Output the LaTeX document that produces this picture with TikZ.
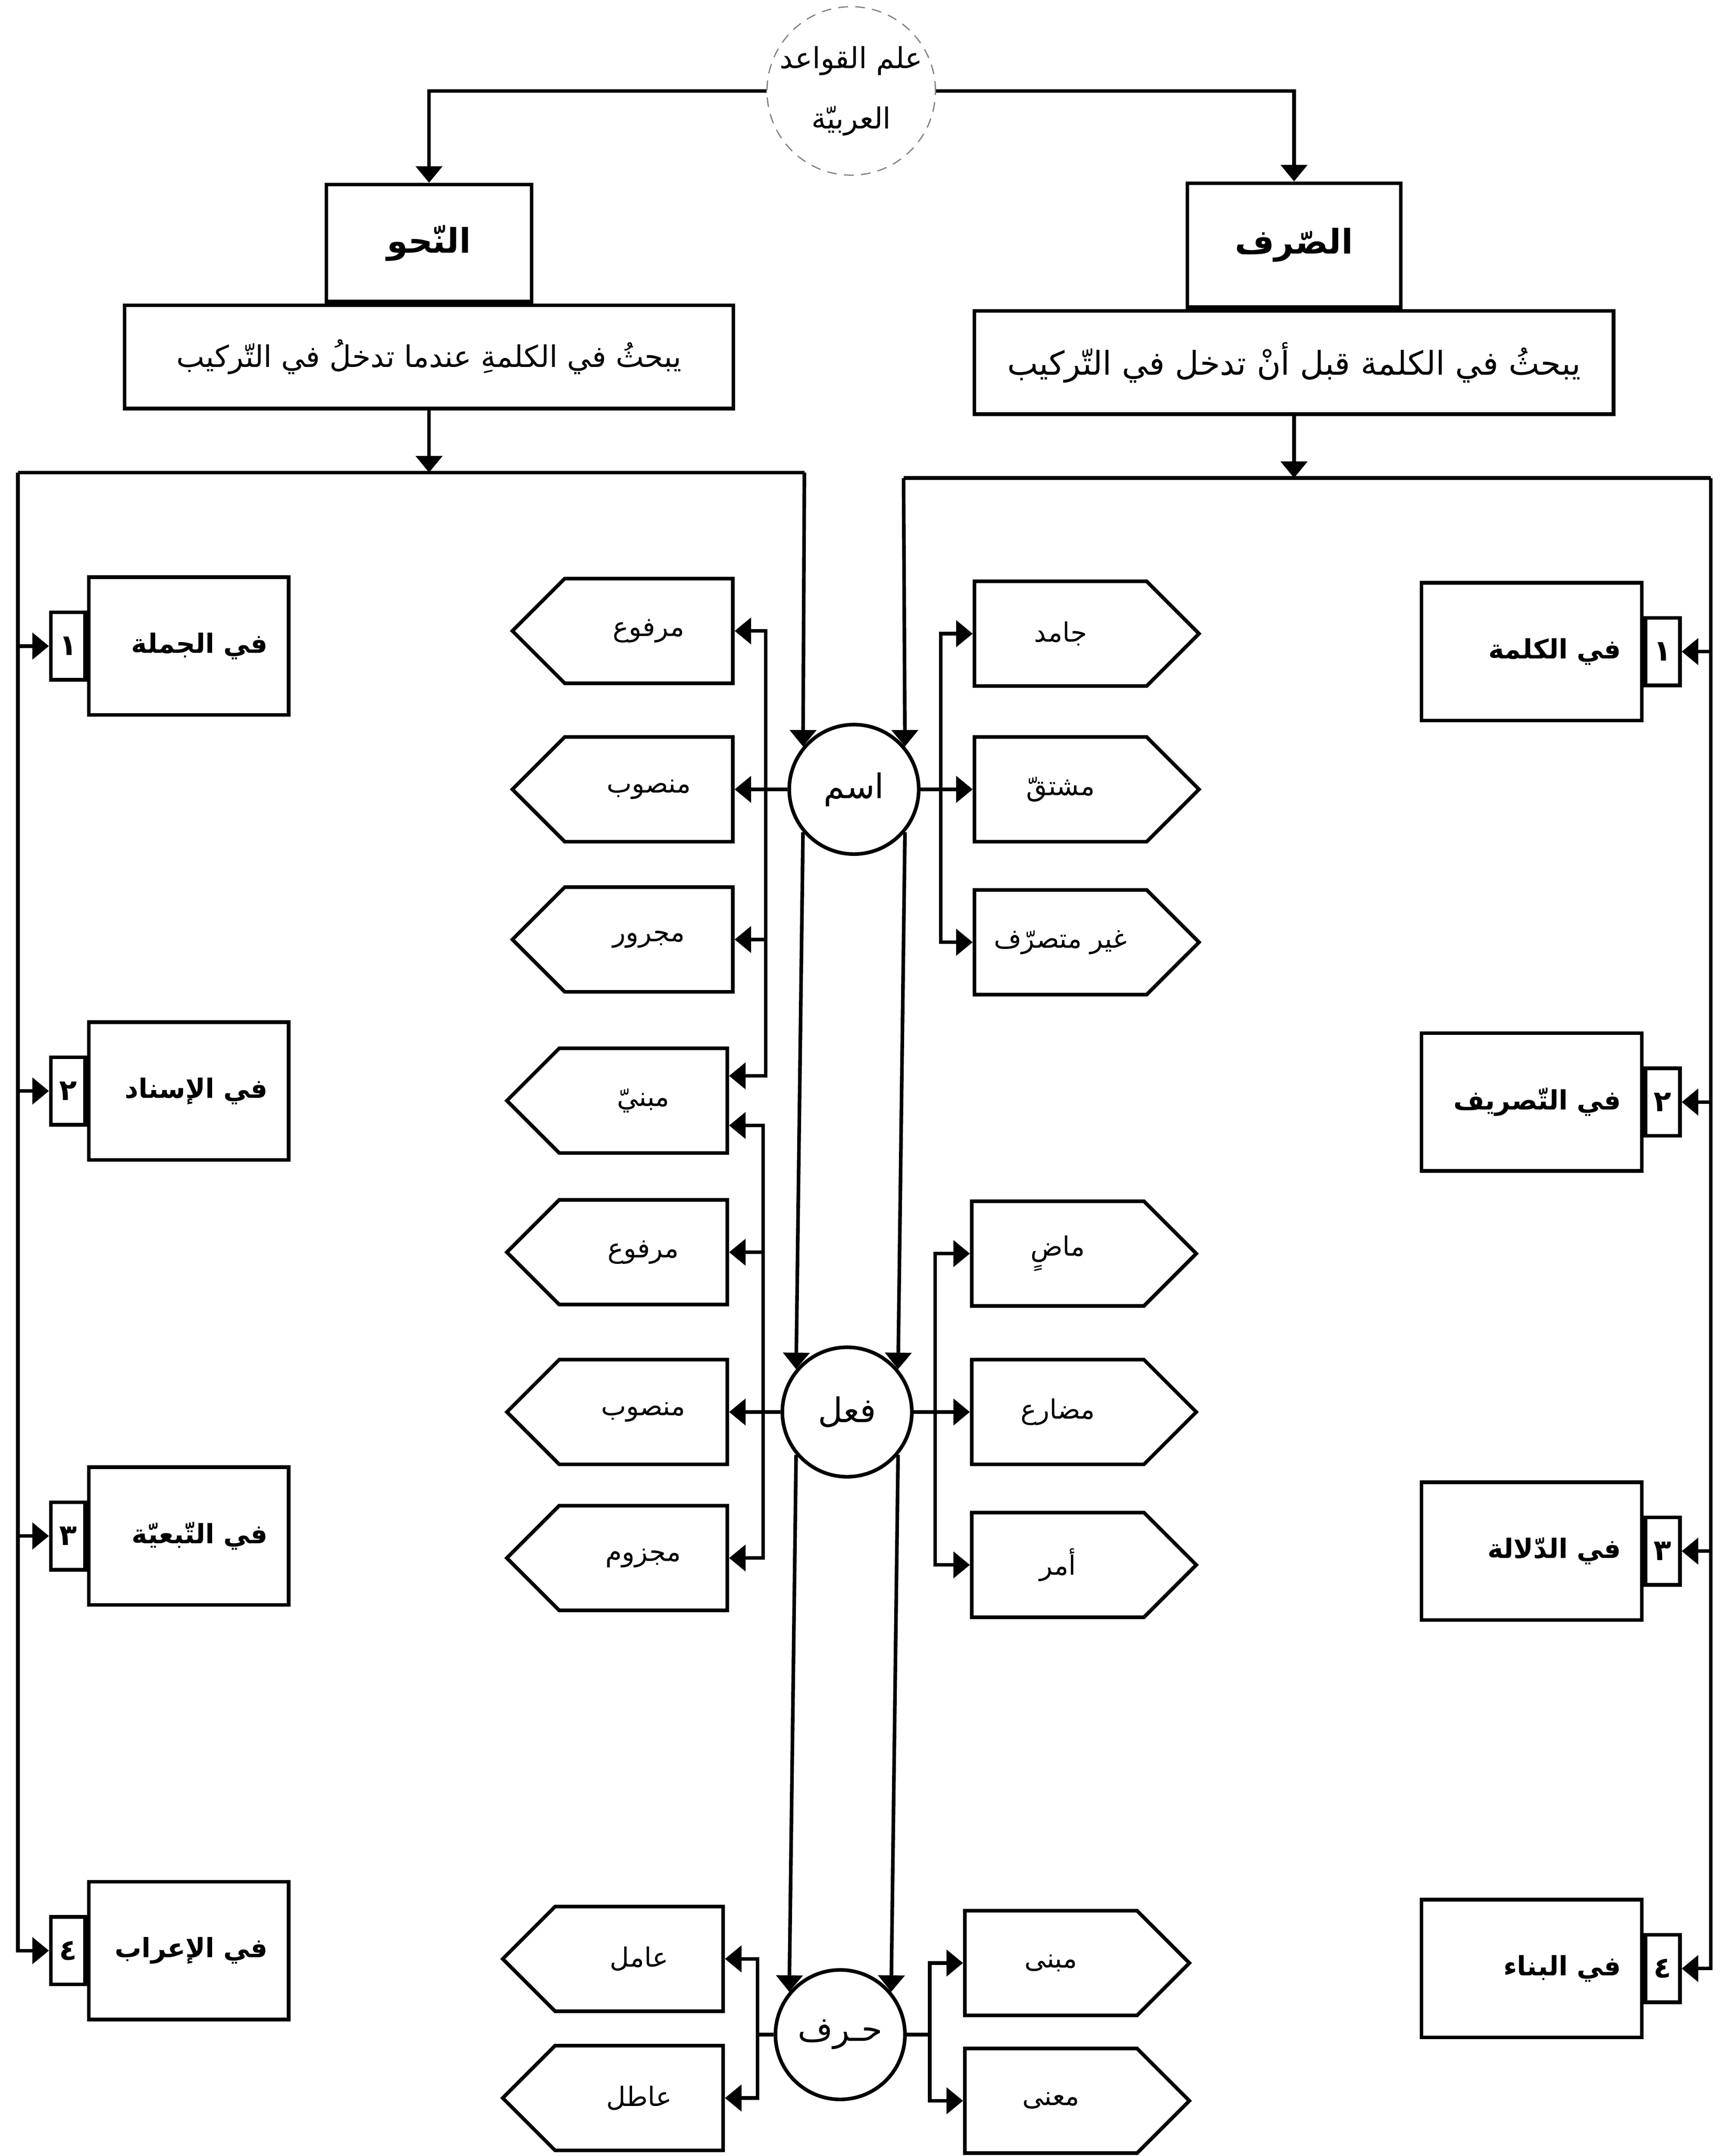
\documentclass[tikz,border=0pt]{standalone}
\usepackage{fontspec}
\newfontfamily\arabicfont[Script=Arabic]{DejaVu Sans}
\TeXXeTstate=1
\usetikzlibrary{positioning,shapes.symbols,arrows.meta}
\newcommand{\artext}[1]{\beginR #1\endR}

\begin{document}
\begin{tikzpicture}[x=0.2mm,y=-0.2mm,line width=1.5pt,
        arr/.style={-{Triangle[length=2.4mm,width=3.8mm]}},
        arrs/.style={{Triangle[length=2.4mm,width=3.8mm]}-{Triangle[length=2.4mm,width=3.8mm]}},
        rootnode/.style={circle,draw=gray,line width=0.5pt,dash pattern=on 4pt off 3pt,minimum size=24mm,inner sep=0pt,align=center,font=\arabicfont\fontsize{12}{25}\selectfont},
        titlebox/.style={draw,minimum height=17mm,font=\arabicfont\bfseries\fontsize{14}{17}\selectfont},
        descbox/.style={draw,minimum height=15mm,font=\arabicfont\fontsize{12.3}{15}\selectfont},
        secbox/.style={draw,minimum height=20mm,inner xsep=3mm,align=right,font=\arabicfont\bfseries\fontsize{11}{14}\selectfont},
        numbox/.style={draw,minimum width=5mm,minimum height=9.8mm,inner sep=0pt,font=\arabicfont\bfseries\fontsize{12}{14}\selectfont},
        wordcircle/.style={circle,draw,minimum size=18.8mm,inner sep=0pt,font=\arabicfont\fontsize{14}{17}\selectfont},
        leftsig/.style={signal,signal to=west,draw,minimum width=32mm,minimum height=15.2mm,font=\arabicfont\fontsize{11}{14}\selectfont},
        rightsig/.style={signal,signal to=east,draw,minimum width=32.6mm,minimum height=15.2mm,font=\arabicfont\fontsize{11}{14}\selectfont}]
    \useasboundingbox (0,0) rectangle (1250,1565.1);

    \node[rootnode] (root) at (618,66) {\artext{علم القواعد}\\\artext{العربيّة}};

    \node[titlebox,minimum width=29.8mm] (nahw) at (311.5,176.5) {\artext{النّحو}};
    \node[descbox,minimum width=88.4mm,below=0pt of nahw] (nahwd) {\artext{يبحثُ في الكلمةِ عندما تدخلُ في التّركيب}};
    \node[titlebox,minimum width=31mm,minimum height=18mm] (sarf) at (939.5,178) {\artext{الصّرف}};
    \node[descbox,minimum width=92.8mm,below=0pt of sarf,font=\arabicfont\fontsize{13.5}{16}\selectfont] (sarfd) {\artext{يبحثُ في الكلمة قبل أنْ تدخل في التّركيب}};

    \node[secbox,text width=23mm] (s1) at (137,469) {\artext{في الجملة}};
    \node[numbox,left=0pt of s1] (n1) {١};
    \node[secbox,text width=23mm] (s2) at (137,792) {\artext{في الإسناد}};
    \node[numbox,left=0pt of s2] (n2) {٢};
    \node[secbox,text width=23mm] (s3) at (137,1115) {\artext{في التّبعيّة}};
    \node[numbox,left=0pt of s3] (n3) {٣};
    \node[secbox,text width=23mm] (s4) at (137,1416) {\artext{في الإعراب}};
    \node[numbox,left=0pt of s4] (n4) {٤};

    \node[secbox,text width=26mm] (k1) at (1112,473) {\artext{في الكلمة}};
    \node[numbox,right=0pt of k1] (m1) {١};
    \node[secbox,text width=26mm] (k2) at (1112,800) {\artext{في التّصريف}};
    \node[numbox,right=0pt of k2] (m2) {٢};
    \node[secbox,text width=26mm] (k3) at (1112,1126) {\artext{في الدّلالة}};
    \node[numbox,right=0pt of k3] (m3) {٣};
    \node[secbox,text width=26mm] (k4) at (1112,1429) {\artext{في البناء}};
    \node[numbox,right=0pt of k4] (m4) {٤};

    \node[wordcircle] (ism) at (620,573) {\artext{اسم}};
    \node[wordcircle] (fil) at (615,1025) {\artext{فعل}};
    \node[wordcircle] (harf) at (610,1477) {\artext{حـرف}};

    \node[leftsig] (l1) at (471,458) {\artext{مرفوع}};
    \node[leftsig] (l2) at (471,573) {\artext{منصوب}};
    \node[leftsig] (l3) at (471,682) {\artext{مجرور}};
    \node[leftsig] (l4) at (467,799) {\artext{مبنيّ}};
    \node[leftsig] (l5) at (467,909) {\artext{مرفوع}};
    \node[leftsig] (l6) at (467,1025) {\artext{منصوب}};
    \node[leftsig] (l7) at (467,1131) {\artext{مجزوم}};
    \node[leftsig] (l8) at (464,1422) {\artext{عامل}};
    \node[leftsig] (l9) at (464,1523) {\artext{عاطل}};

    \node[rightsig] (r1) at (770,460) {\artext{جامد}};
    \node[rightsig] (r2) at (770,573) {\artext{مشتقّ}};
    \node[rightsig] (r3) at (770,684) {\artext{غير متصرّف}};
    \node[rightsig] (r4) at (768,910) {\artext{ماضٍ}};
    \node[rightsig] (r5) at (768,1025) {\artext{مضارع}};
    \node[rightsig] (r6) at (768,1136) {\artext{أمر}};
    \node[rightsig] (r7) at (763,1425) {\artext{مبنى}};
    \node[rightsig] (r8) at (763,1525) {\artext{معنى}};

    \coordinate (nW) at (13,343);
    \coordinate (nE) at (584,343);
    \coordinate (sW) at (656,347);
    \coordinate (sE) at (1242,347);
    \coordinate (iL) at (556,573);
    \coordinate (iR) at (683,573);
    \coordinate (fL) at (554,1025);
    \coordinate (fR) at (679,1025);
    \coordinate (hL) at (550,1477);
    \coordinate (hR) at (675,1477);
    \coordinate (l4a) at ([yshift=3.6mm]l4.east);
    \coordinate (l4b) at ([yshift=-3.6mm]l4.east);

    \draw[arr] (root) -| (nahw);
    \draw[arr] (root) -| (sarf);

    \draw[arr] (nahwd) -- (nahwd |- nW);
    \draw (nW) -- (nE);
    \draw[arr] (nE) -- (ism.140);
    \draw[arr] (ism.220) -- (fil.140);
    \draw[arr] (fil.220) -- (harf.140);
    \draw[arr] (nW) |- (n4);
    \draw[arr] (nW |- n1) -- (n1);
    \draw[arr] (nW |- n2) -- (n2);
    \draw[arr] (nW |- n3) -- (n3);

    \draw[arr] (sarfd) -- (sarfd |- sW);
    \draw (sW) -- (sE);
    \draw[arr] (sW) -- (ism.40);
    \draw[arr] (ism.-40) -- (fil.40);
    \draw[arr] (fil.-40) -- (harf.40);
    \draw[arr] (sE) |- (m4);
    \draw[arr] (sE |- m1) -- (m1);
    \draw[arr] (sE |- m2) -- (m2);
    \draw[arr] (sE |- m3) -- (m3);

    \draw[arrs] (l1) -| (iL) |- (l4a);
    \draw[arr] (ism) -- (l2);
    \draw[arr] (iL |- l3) -- (l3);
    \draw[arrs] (l4b) -| (fL) |- (l7);
    \draw[arr] (fil) -- (l6);
    \draw[arr] (fL |- l5) -- (l5);
    \draw[arrs] (l8) -| (hL) |- (l9);
    \draw (harf) -- (hL);

    \draw[arrs] (r1) -| (iR) |- (r3);
    \draw[arr] (ism) -- (r2);
    \draw[arrs] (r4) -| (fR) |- (r6);
    \draw[arr] (fil) -- (r5);
    \draw[arrs] (r7) -| (hR) |- (r8);
    \draw (harf) -- (hR);
\end{tikzpicture}
\end{document}
